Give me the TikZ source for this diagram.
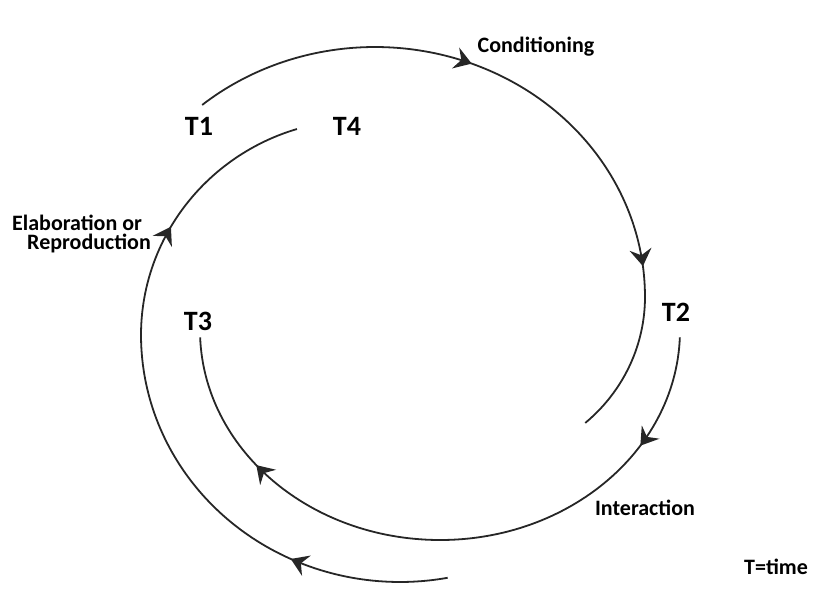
\documentclass[tikz,border=0pt]{standalone}
\usepackage{fontspec}
\setmainfont{Carlito}
\usetikzlibrary{arrows.meta,decorations.markings}
\begin{document}
\begin{tikzpicture}[x=1bp,y=-1bp,
  declare function={
    qa(\t)=1-0.073*max(0,\t/33)*max(0,\t/33);
    qc(\t)=1-0.076*max(0,(\t-180)/64.5)*max(0,(\t-180)/64.5);
  },
  >={Stealth[length=17bp,width=22bp,inset=6bp]},
  cycleline/.style={draw=black!85, line width=1.8bp, line join=round},
  twoheads/.style 2 args={postaction={decorate,decoration={markings,
      mark=at position #1 with {\arrow{>}},
      mark=at position #2 with {\arrow{>}}}}},
  lbl/.style={font=\bfseries\fontsize{22bp}{19.5bp}\selectfont, inner sep=0pt, text=black},
  tlbl/.style={font=\bfseries\fontsize{28bp}{32bp}\selectfont, inner sep=0pt, text=black}]
\useasboundingbox (0,0) rectangle (831,603);

% time labels
\node[tlbl] (t1) at (199,126) {T1};
\node[tlbl] (t4) at (347,126) {T4};
\node[tlbl] (t3) at (198,321) {T3};
\node[tlbl] (t2) at (676,312) {T2};

% phase labels
\node[lbl] (cond)  at (536,46.5) {Conditioning};
\node[lbl, align=left, anchor=north west] (elab) at (12,214.5)
  {Elaboration or\\\hspace*{15bp}Reproduction};
\node[lbl] (inter) at (645,508) {Interaction};
\node[lbl] (tkey)  at (776,567) {T=time};

% start of the interaction arc
\coordinate (c2s) at ({440+240*cos(2)},{330+210*sin(2)});

% conditioning: T1 -> T2 (ellipse that tightens after passing T2)
\draw[cycleline, twoheads={0.385}{0.763}]
  plot[domain=-129.8:32.9, samples=140, variable=\t]
  ({375+qa(\t)*270*cos(\t)}, {297+qa(\t)*250*sin(\t)});

% interaction: T2 -> T3
\draw[cycleline, twoheads={0.169}{0.794}]
  (c2s) arc[start angle=2, end angle=178, x radius=240, y radius=210];

% elaboration or reproduction: T3 -> T4 (tightens towards T4)
\draw[cycleline, twoheads={0.222}{0.774}]
  plot[domain=79.4:244.5, samples=140, variable=\t]
  ({400+qc(\t)*259*cos(\t)}, {335+qc(\t)*247*sin(\t)});
\end{tikzpicture}
\end{document}
